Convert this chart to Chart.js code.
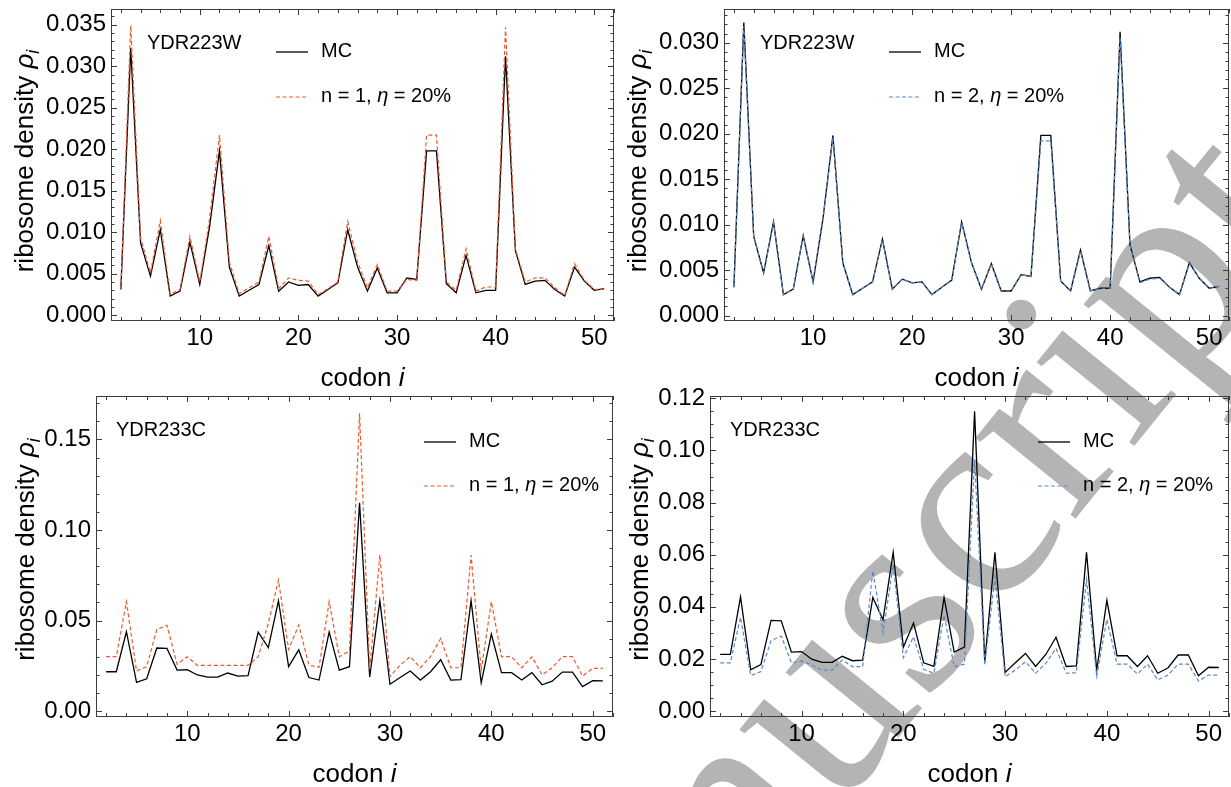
<!DOCTYPE html>
<html lang="en">
<head>
<meta charset="UTF-8">
<title>Ribosome density profiles</title>
<style>
    html, body {
        margin: 0;
        padding: 0;
        background: #fff;
    }
    body {
        width: 1231px;
        height: 787px;
        position: relative;
        overflow: hidden;
        font-family: "Liberation Sans", Arial, sans-serif;
    }
    #watermark {
        position: absolute;
        left: 0;
        top: 0;
        z-index: 0;
    }
    .panel {
        position: absolute;
        z-index: 1;
    }
</style>
</head>
<body>
<svg id="watermark" width="1231" height="787">
    <text x="514" y="1212" transform="rotate(-51 514 1212)" style="font-family:'Liberation Serif','Times New Roman',serif;font-size:280px" fill="#b4b4b4">Manuscript</text>
</svg>
<div class="panel" style="left:0;top:0;width:616px;height:393px"><canvas id="p1"></canvas></div>
<div class="panel" style="left:616px;top:0;width:615px;height:393px"><canvas id="p2"></canvas></div>
<div class="panel" style="left:0;top:380px;width:616px;height:407px"><canvas id="p3"></canvas></div>
<div class="panel" style="left:616px;top:380px;width:615px;height:407px"><canvas id="p4"></canvas></div>

<script src="https://cdn.jsdelivr.net/npm/chart.js"></script>
<script>
// codon positions 2..51
const codons = [2, 3, 4, 5, 6, 7, 8, 9, 10, 11, 12, 13, 14, 15, 16, 17, 18, 19, 20, 21,
    22, 23, 24, 25, 26, 27, 28, 29, 30, 31, 32, 33, 34, 35, 36, 37, 38, 39, 40, 41,
    42, 43, 44, 45, 46, 47, 48, 49, 50, 51];
const codonTicks = [10, 20, 30, 40, 50];

// YDR223W
const mcW = [0.0031, 0.0322, 0.0087, 0.0047, 0.0103, 0.0023, 0.0029, 0.0088, 0.0037, 0.0107,
    0.0198, 0.0058, 0.0023, 0.0030, 0.0037, 0.0084, 0.0029, 0.0040, 0.0036, 0.0037,
    0.0023, 0.0031, 0.0039, 0.0103, 0.0058, 0.0029, 0.0057, 0.0027, 0.0027, 0.0045,
    0.0043, 0.0198, 0.0198, 0.0038, 0.0027, 0.0072, 0.0027, 0.0030, 0.0030, 0.0312,
    0.0078, 0.0037, 0.0041, 0.0042, 0.0031, 0.0023, 0.0058, 0.0041, 0.0030, 0.0032];
const n1W = [0.0031, 0.0349, 0.0093, 0.0051, 0.0114, 0.0025, 0.0031, 0.0095, 0.0040, 0.0117,
    0.0217, 0.0064, 0.0026, 0.0033, 0.0040, 0.0095, 0.0032, 0.0045, 0.0042, 0.0041,
    0.0025, 0.0032, 0.0040, 0.0113, 0.0064, 0.0033, 0.0061, 0.0029, 0.0029, 0.0043,
    0.0042, 0.0217, 0.0217, 0.0040, 0.0030, 0.0080, 0.0029, 0.0034, 0.0034, 0.0347,
    0.0080, 0.0040, 0.0045, 0.0045, 0.0033, 0.0024, 0.0062, 0.0042, 0.0031, 0.0031];
const n2W = [0.0031, 0.0318, 0.0087, 0.0047, 0.0102, 0.0023, 0.0029, 0.0087, 0.0037, 0.0106,
    0.0196, 0.0058, 0.0023, 0.0030, 0.0037, 0.0083, 0.0029, 0.0040, 0.0036, 0.0037,
    0.0023, 0.0031, 0.0039, 0.0102, 0.0058, 0.0029, 0.0057, 0.0027, 0.0027, 0.0045,
    0.0043, 0.0192, 0.0192, 0.0038, 0.0027, 0.0071, 0.0027, 0.0030, 0.0030, 0.0306,
    0.0077, 0.0036, 0.0040, 0.0041, 0.0031, 0.0023, 0.0057, 0.0041, 0.0030, 0.0032];
const yTicksW1 = [0, 0.005, 0.010, 0.015, 0.020, 0.025, 0.030, 0.035];
const yTicksW2 = [0, 0.005, 0.010, 0.015, 0.020, 0.025, 0.030];

// YDR233C
const mcC = [0.0217, 0.0217, 0.0438, 0.0158, 0.0178, 0.0348, 0.0346, 0.0226, 0.0228, 0.0199,
    0.0187, 0.0187, 0.0210, 0.0193, 0.0195, 0.0436, 0.0350, 0.0609, 0.0245, 0.0338,
    0.0185, 0.0171, 0.0436, 0.0226, 0.0245, 0.1150, 0.0188, 0.0609, 0.0148, 0.0185,
    0.0221, 0.0171, 0.0217, 0.0283, 0.0171, 0.0173, 0.0609, 0.0156, 0.0425, 0.0212,
    0.0212, 0.0171, 0.0212, 0.0145, 0.0165, 0.0215, 0.0215, 0.0135, 0.0168, 0.0167];
const n1C = [0.0300, 0.0300, 0.0604, 0.0221, 0.0245, 0.0451, 0.0473, 0.0258, 0.0300, 0.0252,
    0.0252, 0.0252, 0.0252, 0.0252, 0.0252, 0.0300, 0.0484, 0.0723, 0.0340, 0.0475,
    0.0254, 0.0241, 0.0604, 0.0300, 0.0331, 0.1644, 0.0230, 0.0861, 0.0190, 0.0254,
    0.0300, 0.0239, 0.0300, 0.0401, 0.0239, 0.0239, 0.0861, 0.0226, 0.0604, 0.0300,
    0.0300, 0.0239, 0.0300, 0.0199, 0.0239, 0.0300, 0.0300, 0.0193, 0.0236, 0.0236];
const n2C = [0.0185, 0.0185, 0.0360, 0.0136, 0.0151, 0.0270, 0.0288, 0.0185, 0.0192, 0.0177,
    0.0157, 0.0157, 0.0196, 0.0170, 0.0170, 0.0538, 0.0300, 0.0560, 0.0205, 0.0285,
    0.0160, 0.0145, 0.0368, 0.0170, 0.0180, 0.0965, 0.0177, 0.0515, 0.0132, 0.0157,
    0.0189, 0.0145, 0.0183, 0.0240, 0.0145, 0.0147, 0.0505, 0.0134, 0.0352, 0.0180,
    0.0180, 0.0142, 0.0180, 0.0119, 0.0138, 0.0180, 0.0180, 0.0115, 0.0138, 0.0138];
const yTicksC1 = [0, 0.05, 0.10, 0.15];
const yTicksC2 = [0, 0.02, 0.04, 0.06, 0.08, 0.10, 0.12];

const FAM = '"Liberation Sans", Arial, sans-serif';
const RED = '#ee5a30';
const BLUE = '#5a88c8';

function pts(vals) {
    return codons.map((c, k) => ({ x: c, y: vals[k] }));
}

// text with italic / subscript pieces
function drawRich(ctx, parts, x, y, size, align) {
    const fontOf = p => (p.it ? 'italic ' : '') + (p.sub ? size * 0.68 : size) + 'px ' + FAM;
    let w = 0;
    parts.forEach(p => { ctx.font = fontOf(p); w += ctx.measureText(p.t).width; });
    let cx = align === 'center' ? x - w / 2 : x;
    ctx.textAlign = 'left';
    ctx.textBaseline = 'alphabetic';
    parts.forEach(p => {
        ctx.font = fontOf(p);
        ctx.fillText(p.t, cx, y + (p.sub ? size * 0.22 : 0));
        cx += ctx.measureText(p.t).width;
    });
}

// frame, inward ticks, labels, legend and axis titles
const frame = {
    id: 'frame',
    afterDatasetsDraw(chart, args, o) {
        const { ctx, chartArea: a, scales } = chart;
        const xs = scales.x, ys = scales.y;
        ctx.save();
        ctx.strokeStyle = '#3c3c3c';
        ctx.lineWidth = 1;
        ctx.strokeRect(a.left + 0.5, a.top + 0.5, a.right - a.left - 1, a.bottom - a.top - 1);
        ctx.beginPath();
        for (let v = 2; v <= 52; v += 2) {
            const px = Math.round(xs.getPixelForValue(v)) + 0.5;
            const len = v % 10 === 0 ? 6 : 4;
            ctx.moveTo(px, a.bottom); ctx.lineTo(px, a.bottom - len);
            ctx.moveTo(px, a.top); ctx.lineTo(px, a.top + len);
        }
        const nMinor = Math.round(ys.max / o.minor);
        const ratio = Math.round(o.major / o.minor);
        for (let k = 0; k <= nMinor; k++) {
            const py = Math.round(ys.getPixelForValue(k * o.minor)) + 0.5;
            if (py < a.top + 1) continue;
            const len = k % ratio === 0 ? 6 : 3.5;
            ctx.moveTo(a.left, py); ctx.lineTo(a.left + len, py);
            ctx.moveTo(a.right, py); ctx.lineTo(a.right - len, py);
        }
        ctx.stroke();

        ctx.fillStyle = '#000';
        drawRich(ctx, [{ t: o.gene }], a.left + o.geneDx, a.top + 40, 20, 'left');

        const ds = chart.data.datasets;
        o.legendY.forEach((ly, k) => {
            const d = ds[k];
            ctx.beginPath();
            ctx.strokeStyle = d.borderColor;
            ctx.lineWidth = d.borderWidth;
            ctx.setLineDash(d.borderDash || []);
            ctx.moveTo(a.left + o.legX, a.top + ly);
            ctx.lineTo(a.left + o.legX + 32, a.top + ly);
            ctx.stroke();
            ctx.setLineDash([]);
            drawRich(ctx, o.legendText[k], a.left + o.legX + 45, a.top + ly + 4.5, 20, 'left');
        });

        drawRich(ctx, [{ t: 'codon ' }, { t: 'i', it: true }], (a.left + a.right) / 2, a.bottom + 65, 26, 'center');

        ctx.translate(a.left - o.yTitleGap, (a.top + a.bottom) / 2 + o.yTitleDy);
        ctx.rotate(-Math.PI / 2);
        drawRich(ctx, [{ t: 'ribosome density ' }, { t: 'ρ', it: true }, { t: 'i', it: true, sub: true }], 0, 0, 26, 'center');
        ctx.restore();
    }
};

function makePanel(id, cfg) {
    new Chart(document.getElementById(id), {
        type: 'line',
        data: {
            datasets: [
                { label: 'MC', data: pts(cfg.mc), borderColor: '#000', borderWidth: 1.3, order: 1 },
                { label: cfg.label, data: pts(cfg.model), borderColor: cfg.color, borderWidth: 1.2, borderDash: [4, 2.5], order: 0 }
            ]
        },
        options: {
            responsive: true,
            maintainAspectRatio: false,
            animation: false,
            layout: { padding: { top: cfg.top, right: cfg.right, left: 0, bottom: 0 } },
            elements: { point: { radius: 0 }, line: { tension: 0 } },
            plugins: {
                legend: { display: false },
                tooltip: { enabled: false },
                frame: {
                    gene: cfg.gene, geneDx: cfg.geneDx,
                    legX: cfg.legX, legendY: cfg.legendY,
                    legendText: [[{ t: 'MC' }], [{ t: 'n = ' + cfg.n + ', ' }, { t: 'η', it: true }, { t: ' = 20%' }]],
                    minor: cfg.minor, major: cfg.major,
                    yTitleGap: cfg.yTitleGap, yTitleDy: cfg.yTitleDy
                }
            },
            scales: {
                x: {
                    type: 'linear', min: 1, max: 52,
                    grid: { display: false, drawTicks: false },
                    border: { display: false },
                    ticks: { padding: 3, color: '#000', maxRotation: 0, autoSkip: false, font: { family: FAM, size: 24 } },
                    afterBuildTicks: s => { s.ticks = codonTicks.map(v => ({ value: v })); },
                    afterFit: s => { s.height = cfg.xh; s.paddingLeft = 0; s.paddingRight = 0; }
                },
                y: {
                    type: 'linear', min: cfg.ymin, max: cfg.ymax,
                    grid: { display: false, drawTicks: false },
                    border: { display: false },
                    ticks: { padding: 5, color: '#000', font: { family: FAM, size: 24 }, callback: v => v.toFixed(cfg.dec) },
                    afterBuildTicks: s => { s.ticks = cfg.yTicks.map(v => ({ value: v })); },
                    afterFit: s => { s.width = cfg.yw; s.paddingTop = 0; s.paddingBottom = 0; }
                }
            }
        },
        plugins: [frame]
    });
}

makePanel('p1', {
    mc: mcW, model: n1W, label: 'n = 1, η = 20%', n: 1, color: RED, gene: 'YDR223W',
    ymin: -0.0007, ymax: 0.0369, yTicks: yTicksW1, dec: 3, minor: 0.001, major: 0.005,
    top: 9, right: 2, yw: 111, xh: 72, geneDx: 36, legX: 165, legendY: [43, 88],
    yTitleGap: 78, yTitleDy: -4
});
makePanel('p2', {
    mc: mcW, model: n2W, label: 'n = 2, η = 20%', n: 2, color: BLUE, gene: 'YDR223W',
    ymin: -0.0006, ymax: 0.0337, yTicks: yTicksW2, dec: 3, minor: 0.001, major: 0.005,
    top: 9, right: 2, yw: 108, xh: 72, geneDx: 36, legX: 165, legendY: [43, 88],
    yTitleGap: 78, yTitleDy: -4
});
makePanel('p3', {
    mc: mcC, model: n1C, label: 'n = 1, η = 20%', n: 1, color: RED, gene: 'YDR233C',
    ymin: -0.0033, ymax: 0.174, yTicks: yTicksC1, dec: 2, minor: 0.01, major: 0.05,
    top: 16, right: 3, yw: 96, xh: 70, geneDx: 20, legX: 328, legendY: [46, 90],
    yTitleGap: 62, yTitleDy: -7
});
makePanel('p4', {
    mc: mcC, model: n2C, label: 'n = 2, η = 20%', n: 2, color: BLUE, gene: 'YDR233C',
    ymin: -0.0023, ymax: 0.1209, yTicks: yTicksC2, dec: 2, minor: 0.005, major: 0.02,
    top: 16, right: 2, yw: 94, xh: 70, geneDx: 20, legX: 328, legendY: [46, 90],
    yTitleGap: 62, yTitleDy: -7
});
</script>
</body>
</html>
